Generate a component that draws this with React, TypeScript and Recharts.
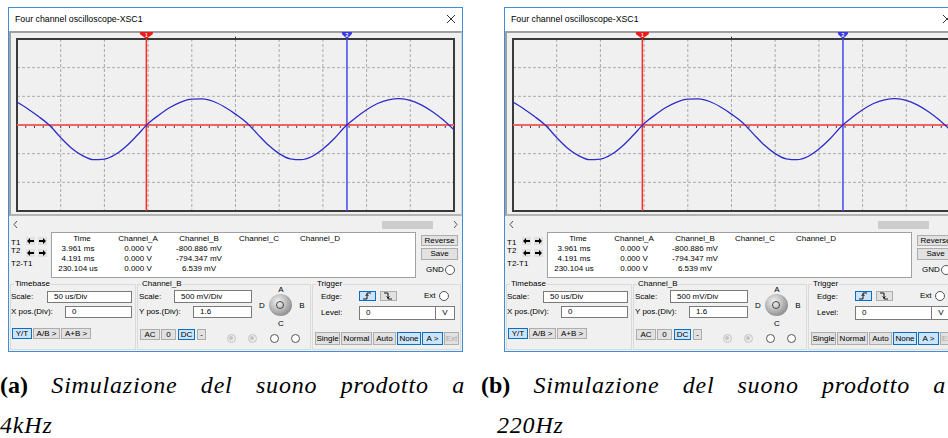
import React from 'react';
import {
  LineChart, Line, XAxis, YAxis, CartesianGrid, ReferenceLine, ReferenceArea,
} from 'recharts';

// screen grid: 10 x 6 divisions
const timeDivs = [0, 1, 2, 3, 4, 5, 6, 7, 8, 9, 10];
const voltDivs = [-3, -2, -1, 0, 1, 2, 3];
const minorTicks = Array.from({ length: 51 }, (_, i) => i / 5);

// channel B trace (x and y in divisions)
const traceTime = [
  0, 0.25, 0.5, 0.75, 1, 1.25, 1.5, 1.75, 2, 2.25, 2.5, 2.75, 3, 3.25,
  3.5, 3.75, 4, 4.25, 4.5, 4.75, 5, 5.25, 5.5, 5.75, 6, 6.25, 6.5, 6.75,
  7, 7.25, 7.5, 7.75, 8, 8.25, 8.5, 8.75, 9, 9.25, 9.5, 9.75, 10,
];
const channelB = [
  0.8, 0.56, 0.29, -0.02, -0.44, -0.81, -1.07, -1.21, -1.19, -1.03, -0.74, -0.36, 0.05, 0.35,
  0.61, 0.8, 0.9, 0.91, 0.82, 0.63, 0.38, 0.09, -0.31, -0.7, -1.0, -1.18, -1.21, -1.1,
  -0.84, -0.49, -0.07, 0.25, 0.53, 0.75, 0.88, 0.92, 0.86, 0.7, 0.47, 0.18, -0.17,
];
// channel A is flat at 0 V
const channelATime = [0, 10];
const channelA = [0, 0];

const cursorT1 = 2.96;
const cursorT2 = 7.55;

const readHeaders = ['Time', 'Channel_A', 'Channel_B', 'Channel_C', 'Channel_D'];
const readTime = ['3.961 ms', '4.191 ms', '230.104 us'];
const readA = ['0.000 V', '0.000 V', '0.000 V'];
const readB = ['-800.886 mV', '-794.347 mV', '6.539 mV'];

const captionWords = ['Simulazione', 'del', 'suono', 'prodotto', 'a'];
const captions = [
  { tag: '(a)', tail: '4kHz', left: 0, tailLeft: 0 },
  { tag: '(b)', tail: '220Hz', left: 481, tailLeft: 497 },
];

const uiFont = '"Liberation Sans", Arial, sans-serif';
const serif = '"Liberation Serif", "DejaVu Serif", serif';

const traceData = traceTime.map((t, i) => ({ t, b: channelB[i] }));
const chanAData = channelATime.map((t, i) => ({ t, a: channelA[i] }));

function cursorFlag(color: string, num: string, half: number) {
  return (props: any) => {
    const { x, y } = props.viewBox;
    return (
      <g>
        <path d={`M${x - half},${y - 7} L${x + half},${y - 7} L${x + half},${y - 5} L${x},${y} L${x - half},${y - 5} Z`} fill={color} />
        <text x={x} y={y - 2.2} fontSize={5} fontWeight="bold" fill="#fff" textAnchor="middle" fontFamily={uiFont}>{num}</text>
      </g>
    );
  };
}

function Screen() {
  return (
    <LineChart width={439} height={180} data={traceData} margin={{ top: 7, right: 1, bottom: 1, left: 1 }}>
      <XAxis type="number" dataKey="t" domain={[0, 10]} ticks={timeDivs} hide allowDataOverflow />
      <YAxis type="number" domain={[-3, 3]} ticks={voltDivs} hide allowDataOverflow />
      <CartesianGrid stroke="#ababab" strokeDasharray="3 2" />
      {minorTicks.map((t) => (
        <ReferenceLine key={t} segment={[{ x: t, y: 0 }, { x: t, y: -0.1 }]} stroke="#333" strokeWidth={1} />
      ))}
      <ReferenceLine segment={[{ x: 5, y: 3 }, { x: 5, y: 3.08 }]} stroke="#333" strokeWidth={1} ifOverflow="visible" />
      <Line data={chanAData} dataKey="a" stroke="#f26464" strokeWidth={2} dot={false} isAnimationActive={false} />
      <ReferenceLine x={cursorT1} stroke="#ff2b2b" strokeWidth={1.5} label={cursorFlag('#f01818', '1', 6.5)} />
      <ReferenceLine x={cursorT2} stroke="#4646ee" strokeWidth={1.5} label={cursorFlag('#3a3ae8', '2', 5)} />
      <Line type="monotone" dataKey="b" stroke="#2c2cc8" strokeWidth={1.3} dot={false} isAnimationActive={false} />
      <ReferenceArea x1={0} x2={10} y1={-3} y2={3} fill="none" stroke="#3a3a3a" strokeWidth={2} ifOverflow="visible" />
    </LineChart>
  );
}

function Txt({ x, y, children, size = 8, color = '#000', center = false }: any) {
  return (
    <div style={{
      position: 'absolute', left: x, top: y - 6, height: 12, lineHeight: '12px', fontSize: size,
      color, whiteSpace: 'nowrap', transform: center ? 'translateX(-50%)' : undefined,
    }}>{children}</div>
  );
}

function Btn({ x, y, w, h, label, active, disabled, children }: any) {
  return (
    <div style={{
      position: 'absolute', left: x, top: y, width: w, height: h, boxSizing: 'border-box',
      border: `1px solid ${active ? '#0a6fc2' : '#adadad'}`, background: active ? '#cce4f7' : '#e1e1e1',
      color: disabled ? '#a8a8a8' : '#000', fontSize: 8, lineHeight: `${h - 2}px`, textAlign: 'center',
      whiteSpace: 'nowrap', overflow: 'hidden',
    }}>{label}{children}</div>
  );
}

function Field({ x, y, w, h, text }: any) {
  return (
    <div style={{
      position: 'absolute', left: x, top: y, width: w, height: h, boxSizing: 'border-box',
      border: '1px solid #7a7a7a', background: '#fff', fontSize: 8, lineHeight: `${h - 2}px`, paddingLeft: 6,
    }}>{text}</div>
  );
}

function Radio({ x, y, r = 5, dim = false }: any) {
  return (
    <div style={{
      position: 'absolute', left: x - r, top: y - r, width: r * 2, height: r * 2, boxSizing: 'border-box',
      borderRadius: '50%', border: `1px solid ${dim ? '#c4c4c4' : '#555'}`, background: dim ? '#ececec' : '#fff',
    }}>
      {dim && <div style={{ position: 'absolute', left: r - 3, top: r - 3, width: 4, height: 4, borderRadius: '50%', background: '#c4c4c4' }} />}
    </div>
  );
}

function ArrowBtn({ x, y, dir }: any) {
  const pts = dir === 'l' ? '1,4 4,1 4,3 8,3 8,5 4,5 4,7' : '8,4 5,1 5,3 1,3 1,5 5,5 5,7';
  return (
    <div style={{ position: 'absolute', left: x, top: y, width: 9, height: 8, background: '#e1e1e1' }}>
      <svg width={9} height={8} style={{ display: 'block' }}><polygon points={pts} fill="#000" /></svg>
    </div>
  );
}

function Group({ x, y, w, h, title }: any) {
  return (
    <>
      <div style={{ position: 'absolute', left: x, top: y, width: w, height: h, boxSizing: 'border-box', border: '1px solid #dadada' }} />
      <div style={{ position: 'absolute', left: x + 4, top: y - 6, height: 12, lineHeight: '12px', fontSize: 8, background: '#f0f0f0', padding: '0 1px' }}>{title}</div>
    </>
  );
}

function ScopeWindow({ left }: { left: number }) {
  const cols = [82, 138, 199, 259, 320];
  const rows = [249, 259, 269];
  return (
    <div style={{ position: 'absolute', left, top: 0, width: 470, height: 360, fontFamily: uiFont }}>
      <div style={{ position: 'absolute', left: 8, top: 7, width: 455, height: 345, boxSizing: 'border-box', border: '1px solid #3f8fd8', background: '#f0f0f0' }} />
      <div style={{ position: 'absolute', left: 9, top: 8, width: 453, height: 23, background: '#fff' }} />
      <Txt x={15} y={19} size={8.8}>Four channel oscilloscope-XSC1</Txt>
      <svg style={{ position: 'absolute', left: 446, top: 14 }} width={10} height={10}>
        <path d="M1,1 L9,9 M9,1 L1,9" stroke="#333" strokeWidth={1} />
      </svg>

      <div style={{
        position: 'absolute', left: 9, top: 31, width: 453, height: 185, boxSizing: 'border-box',
        borderTop: '2px solid #a0a0a0', borderLeft: '2px solid #a0a0a0', borderBottom: '2px solid #b4b4b4',
        borderRight: '1px solid #d6d6d6', background: '#f0f0f0',
      }} />
      <div style={{ position: 'absolute', left: 16, top: 32 }}>
        <Screen />
      </div>

      <svg style={{ position: 'absolute', left: 12, top: 220 }} width={8} height={9}>
        <path d="M5,1 L2,4.5 L5,8" stroke="#555" fill="none" strokeWidth={1} />
      </svg>
      <div style={{ position: 'absolute', left: 382, top: 221, width: 51, height: 8, background: '#cdcdcd' }} />
      <svg style={{ position: 'absolute', left: 452, top: 220 }} width={8} height={9}>
        <path d="M2,1 L5,4.5 L2,8" stroke="#555" fill="none" strokeWidth={1} />
      </svg>

      <Txt x={11} y={243}>T1</Txt>
      <ArrowBtn x={26} y={237} dir="l" />
      <ArrowBtn x={38} y={237} dir="r" />
      <Txt x={11} y={251}>T2</Txt>
      <ArrowBtn x={26} y={249} dir="l" />
      <ArrowBtn x={38} y={249} dir="r" />
      <Txt x={11} y={264}>T2-T1</Txt>

      <div style={{ position: 'absolute', left: 51, top: 232, width: 365, height: 46, boxSizing: 'border-box', border: '1px solid #a0a0a0', background: '#fff' }} />
      {readHeaders.map((h, i) => <Txt key={h} x={cols[i]} y={239} center>{h}</Txt>)}
      {rows.map((y, i) => (
        <React.Fragment key={y}>
          <Txt x={cols[0] - 4} y={y} center>{readTime[i]}</Txt>
          <Txt x={cols[1]} y={y} center>{readA[i]}</Txt>
          <Txt x={cols[2]} y={y} center>{readB[i]}</Txt>
        </React.Fragment>
      ))}
      <Btn x={421} y={235} w={37} h={11} label="Reverse" />
      <Btn x={421} y={248} w={37} h={12} label="Save" />
      <Txt x={426} y={270}>GND</Txt>
      <Radio x={450} y={270} />

      <Group x={10} y={284} w={126} h={66} title="Timebase" />
      <Txt x={11} y={297}>Scale:</Txt>
      <Field x={47} y={291} w={85} h={12} text="50 us/Div" />
      <Txt x={11} y={312}>X pos.(Div):</Txt>
      <Field x={65} y={306} w={67} h={12} text="0" />
      <Btn x={12} y={328} w={20} h={11} label="Y/T" active />
      <Btn x={33} y={328} w={27} h={11} label="A/B >" />
      <Btn x={61} y={328} w={30} h={11} label="A+B >" />

      <Group x={137} y={284} w={174} h={66} title="Channel_B" />
      <Txt x={139} y={297}>Scale:</Txt>
      <Field x={174} y={290} w={78} h={13} text="500 mV/Div" />
      <Txt x={139} y={312}>Y pos.(Div):</Txt>
      <Field x={193} y={306} w={59} h={12} text="1.6" />
      <Btn x={140} y={329} w={20} h={11} label="AC" />
      <Btn x={161} y={329} w={15} h={11} label="0" />
      <Btn x={178} y={329} w={17} h={11} label="DC" active />
      <Btn x={197} y={329} w={9} h={11} label="-" />
      <Radio x={231} y={338} r={4.5} dim />
      <Radio x={252} y={338} r={4.5} dim />
      <Radio x={274} y={338} r={4.5} />
      <Radio x={295} y={338} r={4.5} />
      <div style={{
        position: 'absolute', left: 269, top: 294, width: 23, height: 22, borderRadius: '50%',
        background: 'radial-gradient(circle at 40% 35%, #f4f4f4 0%, #b8b8b8 45%, #6a6a6a 100%)',
      }}>
        <div style={{ position: 'absolute', left: 7, top: 7, width: 8, height: 8, borderRadius: '50%', border: '1.5px solid #444', boxSizing: 'border-box' }} />
      </div>
      <Txt x={281} y={290} center>A</Txt>
      <Txt x={302} y={306} center>B</Txt>
      <Txt x={281} y={324} center>C</Txt>
      <Txt x={262} y={306} center>D</Txt>

      <Group x={312} y={284} w={149} h={66} title="Trigger" />
      <Txt x={321} y={297}>Edge:</Txt>
      <Btn x={359} y={291} w={17} h={10} active>
        <svg width={15} height={8} style={{ position: 'absolute', left: 0, top: 0 }}>
          <path d="M3,7 H7 V1 H11 M5.5,4 L7,2.5 L8.5,4" stroke="#000" fill="none" strokeWidth={0.9} />
        </svg>
      </Btn>
      <Btn x={380} y={291} w={17} h={10}>
        <svg width={15} height={8} style={{ position: 'absolute', left: 0, top: 0 }}>
          <path d="M3,1 H7 V7 H11 M5.5,4.5 L7,6 L8.5,4.5" stroke="#000" fill="none" strokeWidth={0.9} />
        </svg>
      </Btn>
      <Txt x={424} y={296}>Ext</Txt>
      <Radio x={444} y={296} />
      <Txt x={321} y={313}>Level:</Txt>
      <Field x={359} y={306} w={77} h={14} text="0" />
      <div style={{ position: 'absolute', left: 435, top: 306, width: 20, height: 14, boxSizing: 'border-box', border: '1px solid #7a7a7a', background: '#fff', fontSize: 8, lineHeight: '12px', textAlign: 'center' }}>V</div>
      <Btn x={315} y={332} w={25} h={13} label="Single" />
      <Btn x={341} y={332} w={31} h={13} label="Normal" />
      <Btn x={373} y={332} w={23} h={13} label="Auto" />
      <Btn x={397} y={332} w={24} h={13} label="None" active />
      <Btn x={422} y={332} w={21} h={13} label="A >" active />
      <Btn x={444} y={332} w={15} h={13} label="Ext" disabled />
    </div>
  );
}

function Caption({ tag, tail, left, tailLeft }: any) {
  return (
    <>
      <div style={{
        position: 'absolute', left, top: 370, width: 465, height: 30, display: 'flex',
        justifyContent: 'space-between', alignItems: 'baseline', fontFamily: serif, fontSize: 24, lineHeight: '30px',
      }}>
        <span style={{ fontWeight: 'bold', fontStyle: 'normal' }}>{tag}</span>
        {captionWords.map((w, i) => <span key={i} style={{ fontStyle: 'italic', letterSpacing: 0.8 }}>{w}</span>)}
      </div>
      <div style={{
        position: 'absolute', left: tailLeft, top: 410, height: 30, fontFamily: serif, fontSize: 24,
        lineHeight: '30px', fontStyle: 'italic', letterSpacing: 0.8,
      }}>{tail}</div>
    </>
  );
}

export default function App() {
  return (
    <div style={{ position: 'absolute', left: 0, top: 0, width: 948, height: 438, overflow: 'hidden', background: '#fff' }}>
      <ScopeWindow left={0} />
      <ScopeWindow left={496} />
      {captions.map((c) => <Caption key={c.tag} {...c} />)}
    </div>
  );
}
